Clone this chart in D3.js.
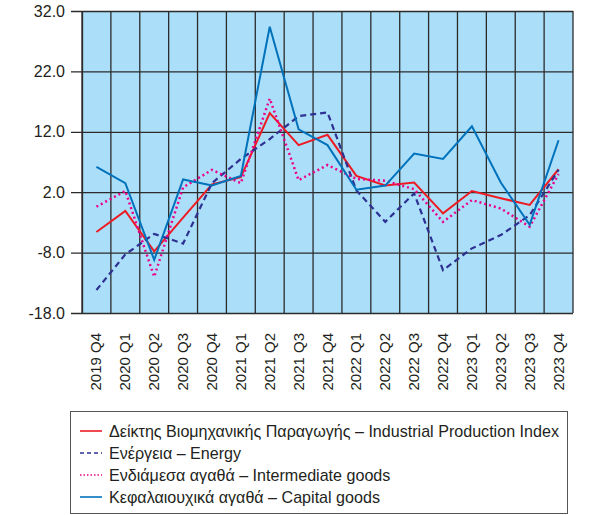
<!DOCTYPE html>
<html>
<head>
<meta charset="utf-8">
<script src="https://cdn.jsdelivr.net/npm/d3@7"></script>
<style>
  html, body { margin: 0; padding: 0; background: #ffffff; }
  svg { display: block; }
  text { font-family: "Liberation Sans", "DejaVu Sans", sans-serif; fill: #231f20; }
</style>
</head>
<body>
<svg id="chart" width="594" height="515"></svg>
<script>
// Quarters on the horizontal axis
const quarters = ["2019 Q4","2020 Q1","2020 Q2","2020 Q3","2020 Q4","2021 Q1","2021 Q2","2021 Q3","2021 Q4",
                  "2022 Q1","2022 Q2","2022 Q3","2022 Q4","2023 Q1","2023 Q2","2023 Q3","2023 Q4"];

// Annual % change by component
const industrialIndex = [-4.6, -1.1, -7.8, -2.2, 3.3, 4.5, 15.1, 9.8, 11.5, 4.7, 3.1, 3.6, -1.5, 2.2, 1.0, -0.1, 5.8];
const energy          = [-14.2, -8.3, -4.9, -6.5, 3.5, 7.5, 10.8, 14.6, 15.2, 2.3, -2.9, 1.8, -10.9, -7.3, -5.1, -1.8, 5.7];
const intermediate    = [-0.4, 2.2, -12.0, 2.8, 5.7, 3.5, 17.5, 4.0, 6.5, 4.2, 3.9, 2.5, -2.9, 0.7, -0.7, -3.7, 5.0];
const capitalGoods    = [6.2, 3.5, -9.2, 4.1, 3.1, 4.7, 29.4, 12.4, 9.8, 2.4, 3.1, 8.4, 7.5, 12.9, 3.6, -3.4, 10.6];

// Value axis ticks
const yTicks = [32, 22, 12, 2, -8, -18];

const seriesNames = [
  "Δείκτης Βιομηχανικής Παραγωγής – Industrial Production Index",
  "Ενέργεια – Energy",
  "Ενδιάμεσα αγαθά – Intermediate goods",
  "Κεφαλαιουχικά αγαθά – Capital goods"
];

const series = [
  { name: seriesNames[0], values: industrialIndex, color: "#ed1c24", dash: null,  width: 2 },
  { name: seriesNames[1], values: energy,          color: "#2e3192", dash: "6,4", width: 2.2 },
  { name: seriesNames[2], values: intermediate,    color: "#ec008c", dash: "2,3", width: 2.5 },
  { name: seriesNames[3], values: capitalGoods,    color: "#0072bc", dash: null,  width: 2 }
];

const svg = d3.select("#chart");
const plot = { left: 82, right: 573, top: 11, bottom: 313 };

const x = d3.scaleBand().domain(quarters).range([plot.left, plot.right]).padding(0);
const y = d3.scaleLinear().domain([-18, 32]).range([plot.bottom, plot.top]);

// Plot background
svg.append("rect")
  .attr("x", plot.left).attr("y", plot.top)
  .attr("width", plot.right - plot.left).attr("height", plot.bottom - plot.top)
  .attr("fill", "#abdff9");

// Vertical grid lines at the quarter boundaries
const g = svg.append("g");
const bounds = quarters.map(q => x(q)).concat([plot.right]);
g.selectAll("line.v").data(bounds).join("line")
  .attr("class", "v")
  .attr("x1", d => d).attr("x2", d => d)
  .attr("y1", plot.top).attr("y2", plot.bottom)
  .attr("stroke", "#2b2b2b").attr("stroke-width", 1.3);

// Horizontal grid lines with ticks on the left; plain hyphen for negatives
const fmt = d => d.toFixed(1);
const yAxis = d3.axisLeft(y).tickValues(yTicks).tickFormat(fmt)
  .tickSize(-(plot.right - plot.left)).tickSizeOuter(0).tickPadding(17);
const ya = svg.append("g").attr("transform", `translate(${plot.left},0)`).call(yAxis);
ya.select(".domain").attr("stroke", "#2b2b2b").attr("stroke-width", 1.3);
ya.selectAll(".tick line").attr("stroke", "#2b2b2b").attr("stroke-width", 1.3)
  .attr("x1", -11);
ya.selectAll(".tick text").attr("font-size", 16).attr("fill", "#231f20")
  .attr("font-family", "Liberation Sans, sans-serif");

// Quarter labels, rotated
const xa = svg.append("g");
xa.selectAll("text").data(quarters).join("text")
  .attr("transform", d => `translate(${x(d) + x.bandwidth() / 2 + 5},333) rotate(-90)`)
  .attr("text-anchor", "end")
  .attr("font-size", 15)
  .text(d => d);

// Series lines
const line = d3.line().x((d, i) => x(quarters[i]) + x.bandwidth() / 2).y(d => y(d));
series.forEach(s => {
  svg.append("path")
    .datum(s.values)
    .attr("d", line)
    .attr("fill", "none")
    .attr("stroke", s.color)
    .attr("stroke-width", s.width)
    .attr("stroke-dasharray", s.dash)
    .attr("stroke-linejoin", "miter");
});

// Legend
const legend = svg.append("g");
legend.append("rect")
  .attr("x", 70.5).attr("y", 411.5).attr("width", 497).attr("height", 102)
  .attr("fill", "#ffffff").attr("stroke", "#555555").attr("stroke-width", 1);
series.forEach((s, i) => {
  const yy = 431 + i * 22;
  legend.append("line")
    .attr("x1", 80).attr("x2", 102).attr("y1", yy).attr("y2", yy)
    .attr("stroke", s.color).attr("stroke-width", 1.6)
    .attr("stroke-dasharray", s.dash ? (s.dash === "6,4" ? "4,3" : "1.5,2") : null);
  legend.append("text")
    .attr("x", 109).attr("y", yy).attr("dy", "0.35em")
    .attr("font-size", 16.1)
    .text(s.name);
});
</script>
</body>
</html>
